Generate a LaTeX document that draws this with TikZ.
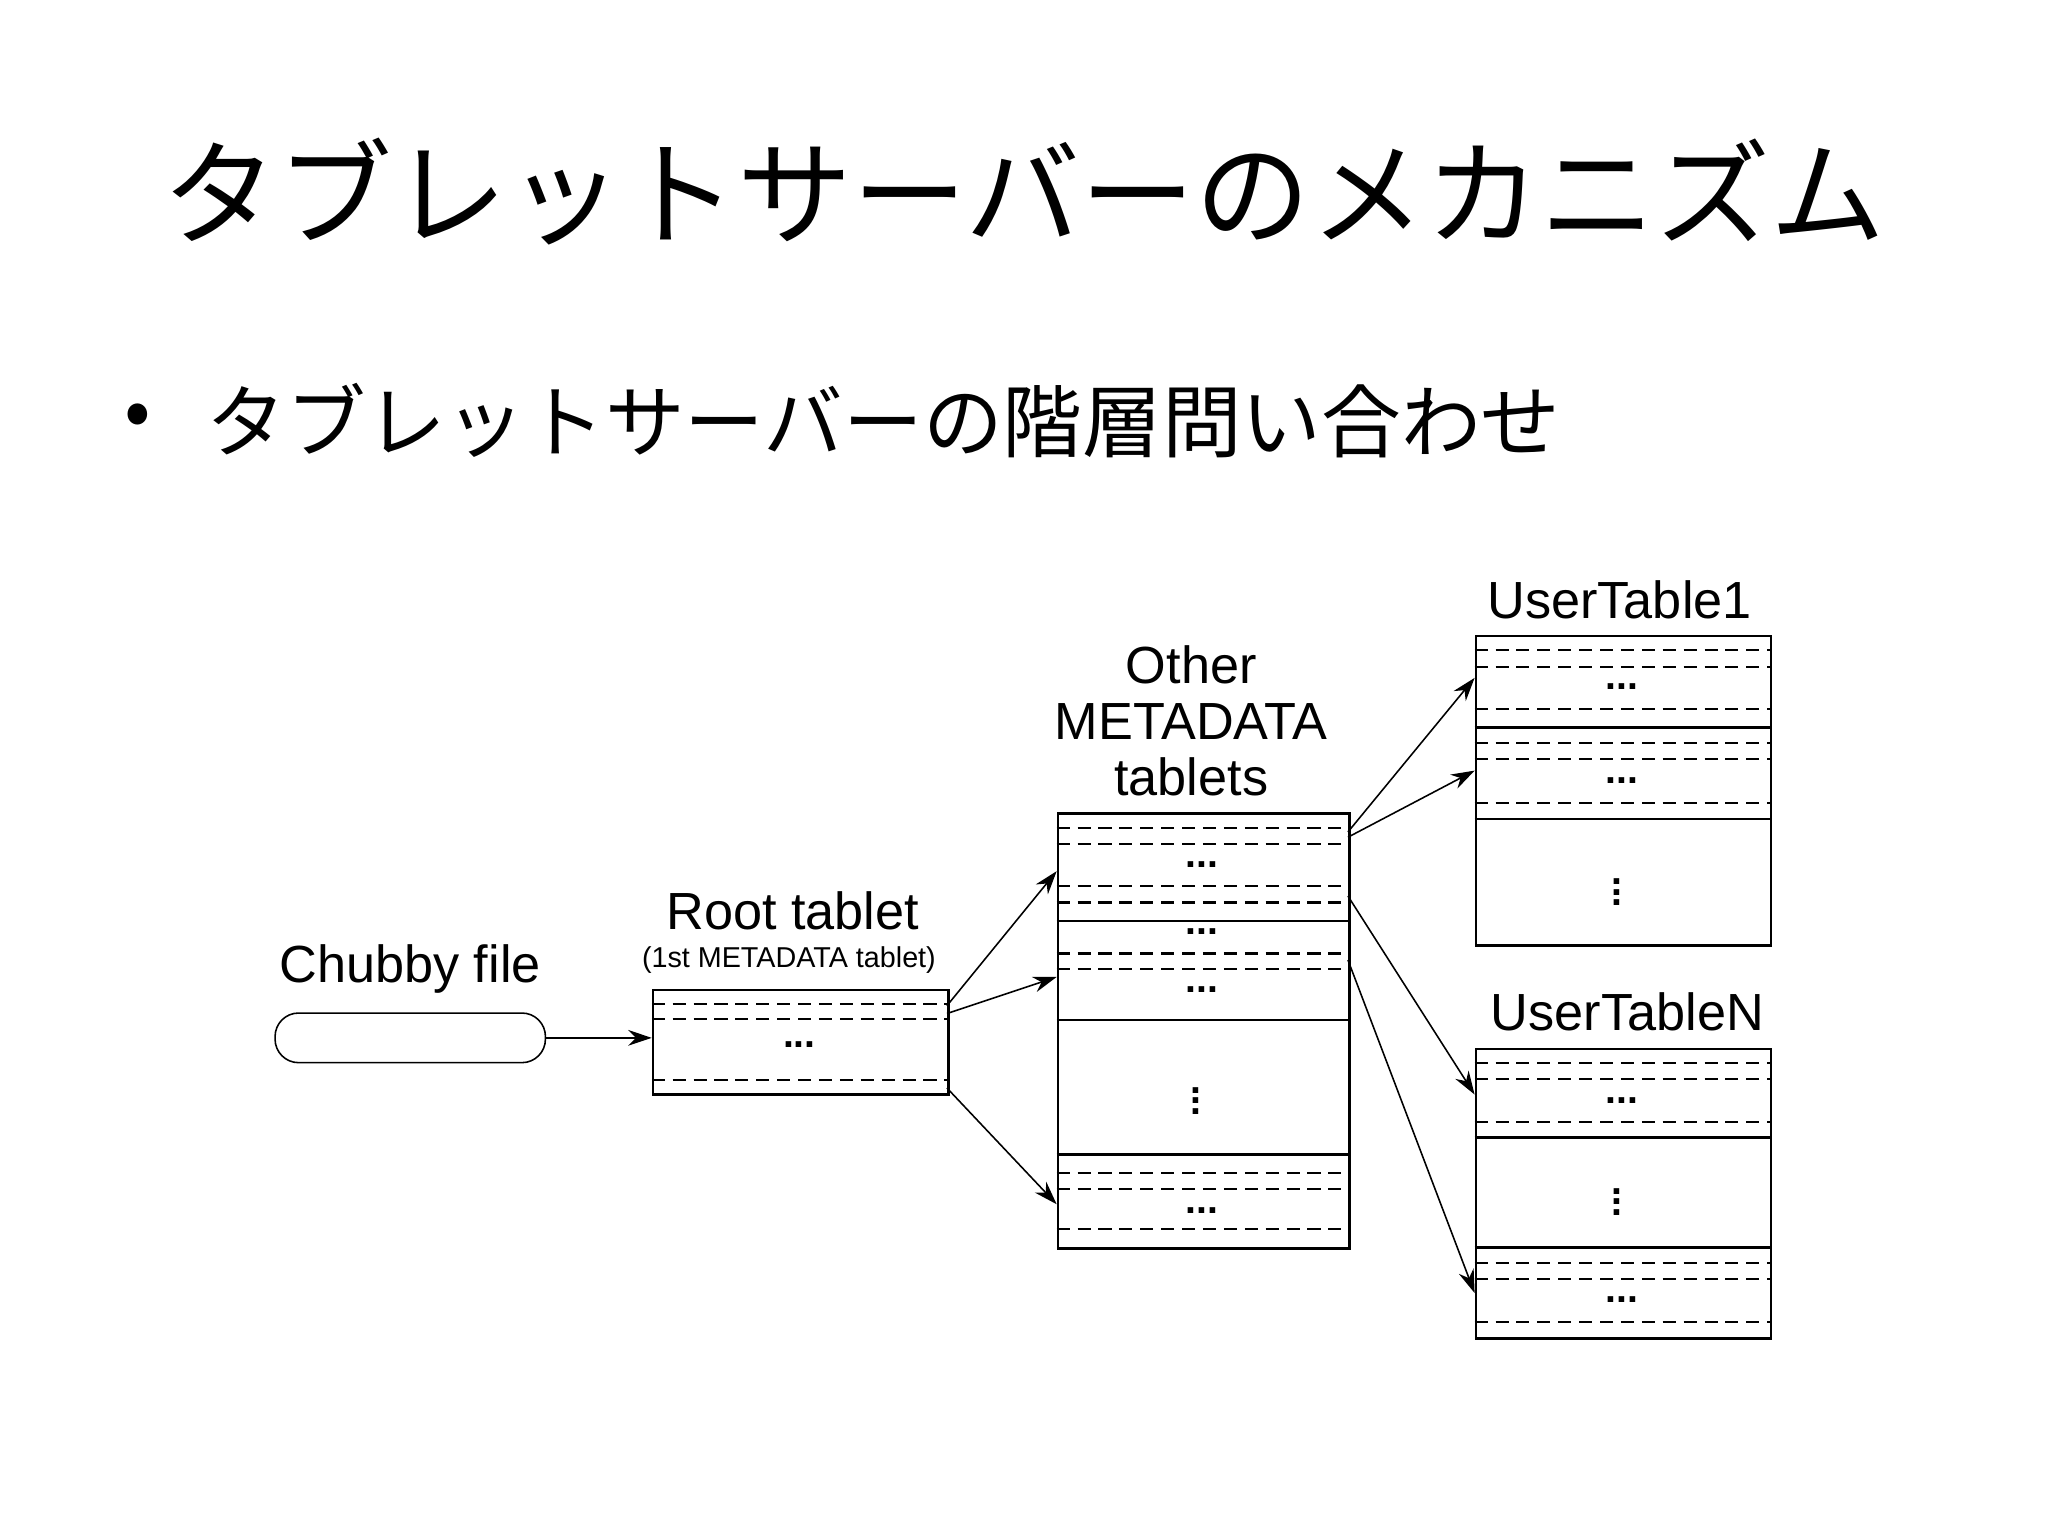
\documentclass[tikz,border=0pt]{standalone}
\usepackage{fontspec}
\setmainfont{Liberation Sans}
\newfontfamily\cjk{Noto Sans CJK JP}
\usetikzlibrary{arrows.meta}
\begin{document}
\begin{tikzpicture}[x=0.5pt,y=-0.5pt,
  box/.style={draw,line width=1pt,anchor=north west,inner sep=0pt},
  dl/.style={dashed,dash pattern=on 5pt off 3pt,line width=0.8pt},
  sl/.style={line width=1pt},
  arr/.style={-{Stealth[length=9pt,width=6pt]},line width=0.6pt},
  lbl/.style={font=\fontsize{20}{22}\selectfont},
  dots/.style={inner sep=0pt,font=\bfseries\fontsize{15}{15}\selectfont}]
\useasboundingbox (0,0) rectangle (1568,1176);
\node[font=\cjk\fontsize{44}{46}\selectfont] (title) at (784,147) {タブレットサーバーのメカニズム};
\node[anchor=west,inner sep=0pt,font=\cjk\fontsize{30}{31}\selectfont] (bulp) at (95,322) {•};
\node[anchor=west,inner sep=0pt,font=\cjk\fontsize{30.5}{31}\selectfont] (bul) at (158,322) {タブレットサーバーの階層問い合わせ};
% Chubby
\node[draw,rounded corners=9pt,line width=0.6pt,minimum width=103.5pt,minimum height=19pt,anchor=north west,inner sep=0pt] (chubby) at (210,775) {};
\node[lbl] (chl) at (314,742) {Chubby file};
% Root
\node[box,minimum width=113pt,minimum height=40pt] (root) at (499,757) {};
\draw[dl] (499,769)--(725,769) (499,780)--(725,780) (499,827)--(725,827);
\node[dots] (rd) at (612,800) {...};
\node[lbl] (rl) at (607,697) {Root tablet};
\node[font=\fontsize{11}{12}\selectfont] (rl2) at (604,735) {(1st METADATA tablet)};
% Meta
\node[box,minimum width=111.5pt,minimum height=166.5pt] (meta) at (809,622) {};
\draw[dl] (809,634)--(1032,634) (809,646)--(1032,646) (809,678)--(1032,678) (809,691)--(1032,691)
          (809,730)--(1032,730) (809,742)--(1032,742) (809,898)--(1032,898) (809,910)--(1032,910) (809,941)--(1032,941);
\draw[sl] (809,705)--(1032,705) (809,781)--(1032,781) (809,884)--(1032,884);
\node[dots] (m1) at (920,662) {...};
\node[dots] (m2) at (920,713) {...};
\node[dots] (m3) at (920,758) {...};
\node[dots] (m4) at (920,927) {...};
\node[dots] (m5) at (916,837) {$\vdots$};
\node[lbl,align=center,font=\fontsize{20}{21.5}\selectfont] (ml) at (912,552) {Other\\METADATA\\tablets};
% UT1
\node[box,minimum width=113pt,minimum height=118.5pt] (ut1) at (1129,486) {};
\draw[dl] (1129,498)--(1355,498) (1129,511)--(1355,511) (1129,543)--(1355,543)
          (1129,569)--(1355,569) (1129,581)--(1355,581) (1129,615)--(1355,615);
\draw[sl] (1129,557)--(1355,557) (1129,627)--(1355,627);
\node[dots] (u1) at (1242,526) {...};
\node[dots] (u2) at (1242,598) {...};
\node[dots] (u3) at (1238,677) {$\vdots$};
\node[lbl] (u1l) at (1240,459) {UserTable1};
% UTN
\node[box,minimum width=113pt,minimum height=111pt] (utn) at (1129,802) {};
\draw[dl] (1129,814)--(1355,814) (1129,826)--(1355,826) (1129,859)--(1355,859)
          (1129,967)--(1355,967) (1129,979)--(1355,979) (1129,1012)--(1355,1012);
\draw[sl] (1129,871)--(1355,871) (1129,955)--(1355,955);
\node[dots] (n1) at (1242,843) {...};
\node[dots] (n2) at (1242,995) {...};
\node[dots] (n3) at (1238,914) {$\vdots$};
\node[lbl] (nl) at (1246,775) {UserTableN};
% arrows
\coordinate (a1) at (725,770); \coordinate (a2) at (725,776); \coordinate (a3) at (725,833);
\coordinate (b1) at (809,667); \coordinate (b2) at (809,748); \coordinate (b3) at (809,922);
\coordinate (c1) at (1032,637); \coordinate (c2) at (1032,641); \coordinate (c3) at (1032,686); \coordinate (c4) at (1032,735);
\coordinate (d1) at (1129,519); \coordinate (d2) at (1129,590); \coordinate (d3) at (1129,838); \coordinate (d4) at (1129,990);
\draw[arr,line width=0.8pt] (chubby.east) -- (root.west |- chubby.east);
\draw[arr] (a1)--(b1); \draw[arr] (a2)--(b2); \draw[arr] (a3)--(b3);
\draw[arr] (c1)--(d1); \draw[arr] (c2)--(d2); \draw[arr] (c3)--(d3); \draw[arr] (c4)--(d4);
\end{tikzpicture}
\end{document}
